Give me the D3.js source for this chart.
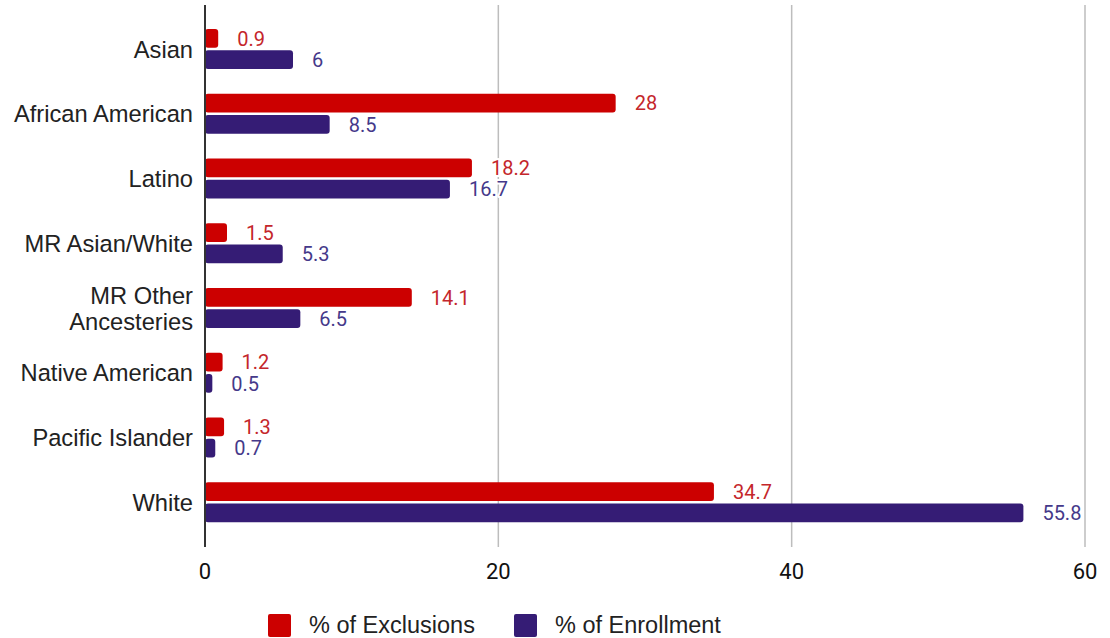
<!DOCTYPE html>
<html><head><meta charset="utf-8">
<script src="https://cdn.jsdelivr.net/npm/d3@7"></script>
<style>body{margin:0;background:#fff;}</style>
</head><body>
<svg id="c" width="1110" height="638"></svg>
<script>
const categories = ["Asian","African American","Latino","MR Asian/White","MR Other\nAncesteries","Native American","Pacific Islander","White"];
const exclusions = [0.9,28,18.2,1.5,14.1,1.2,1.3,34.7];
const enrollment = [6,8.5,16.7,5.3,6.5,0.5,0.7,55.8];
const seriesNames = ["% of Exclusions","% of Enrollment"];
const xTicks = [0,20,40,60];

const colors = ["#cc0000","#351c75"];
const labelColors = ["#c4262b","#45398a"];
const svg = d3.select("#c");
const x = d3.scaleLinear().domain([0,60]).range([205,1085]);
const y = d3.scaleBand().domain(categories).range([16.6,534.6]);
const inner = d3.scaleBand().domain([0,1]).range([y.bandwidth()/2-20, y.bandwidth()/2+20]).paddingInner(0.12);

// grid
svg.append("g").selectAll("line").data(xTicks.filter(d=>d>0)).join("line")
  .attr("x1",d=>x(d)).attr("x2",d=>x(d)).attr("y1",5).attr("y2",547)
  .attr("stroke","#bdbdbd").attr("stroke-width",1.5);

const data = categories.map((c,i)=>({c, v:[exclusions[i],enrollment[i]]}));
const g = svg.append("g");
data.forEach(d=>{
  d.v.forEach((v,s)=>{
    const yy = y(d.c)+inner(s);
    g.append("rect").attr("x",x(0)).attr("y",yy).attr("width",x(v)-x(0)).attr("height",inner.bandwidth())
      .attr("rx",3).attr("fill",colors[s]);
    g.append("text").attr("x",x(v)+19).attr("y",yy+inner.bandwidth()/2).attr("dy","0.36em")
      .attr("font-family","Roboto").attr("font-size",20).attr("fill",labelColors[s])
      .attr("stroke","#fff").attr("stroke-width",4).attr("stroke-linejoin","round").attr("paint-order","stroke")
      .text(v);
  });
});

// zero axis
svg.append("line").attr("x1",x(0)).attr("x2",x(0)).attr("y1",5).attr("y2",547).attr("stroke","#333").attr("stroke-width",2);

// x tick labels
svg.append("g").selectAll("text").data(xTicks).join("text")
  .attr("x",d=>x(d)).attr("y",579).attr("text-anchor","middle")
  .attr("font-family","Roboto").attr("font-size",22).attr("fill","#111").text(d=>d);

// category labels
const cl = svg.append("g");
categories.forEach(c=>{
  const lines = c.split("\n");
  const cy = y(c)+y.bandwidth()/2;
  const lh = 26;
  lines.forEach((l,k)=>{
    cl.append("text").attr("x",193).attr("y",cy+(k-(lines.length-1)/2)*lh).attr("dy","0.36em")
      .attr("text-anchor","end").attr("font-family","Liberation Sans, Arial").attr("font-size",23.7).attr("fill","#222").text(l);
  });
});

// legend
const legX = [268,514];
seriesNames.forEach((n,s)=>{
  svg.append("rect").attr("x",legX[s]).attr("y",614).attr("width",23).attr("height",23).attr("rx",2).attr("fill",colors[s]);
  svg.append("text").attr("x",legX[s]+41).attr("y",625).attr("dy","0.36em")
    .attr("font-family","Liberation Sans, Arial").attr("font-size",23.5).attr("fill","#222").text(n);
});
</script>
</body></html>
